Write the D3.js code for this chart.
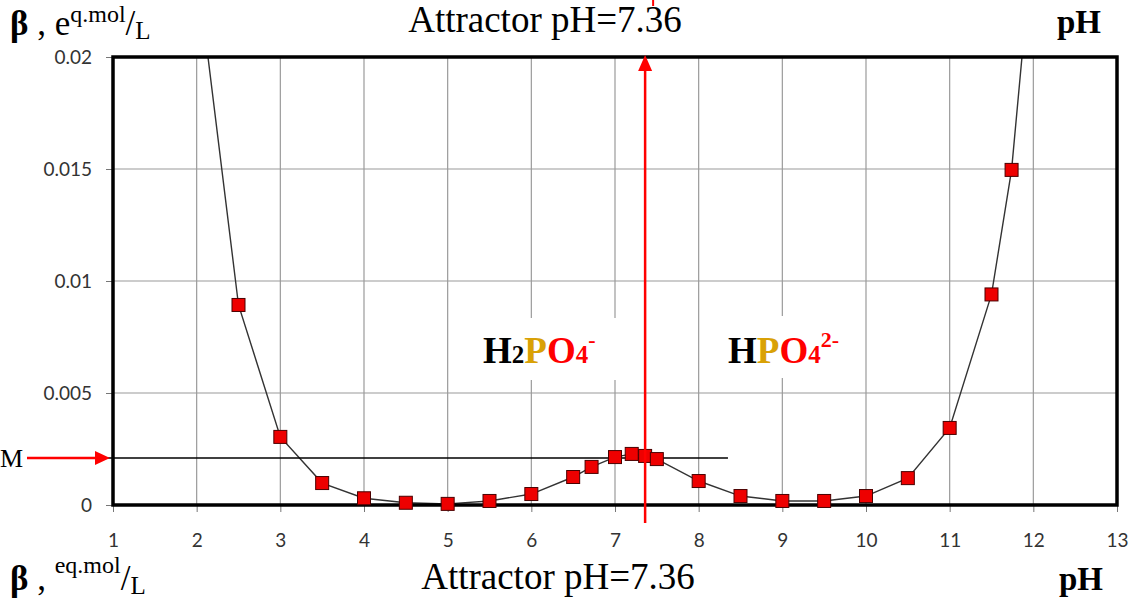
<!DOCTYPE html>
<html>
<head>
<meta charset="utf-8">
<script src="https://cdn.jsdelivr.net/npm/d3@7"></script>
<style>
  body { margin: 0; background: #fff; }
  svg { display: block; }
</style>
</head>
<body>
<div id="chart"></div>
<script>
// buffer capacity vs pH
const phValues   = [2, 2.5, 3, 3.5, 4, 4.5, 5, 5.5, 6, 6.5, 6.72, 7, 7.2, 7.36, 7.5, 8, 8.5, 9, 9.5, 10, 10.5, 11, 11.5, 11.74, 12];
const betaValues = [0.0241, 0.00893, 0.00304, 0.00098, 0.0003, 0.0001, 0.00005, 0.00018, 0.00049, 0.00125, 0.0017, 0.00214, 0.00228, 0.00219, 0.00205, 0.00107, 0.0004, 0.00018, 0.00018, 0.0004, 0.0012, 0.00344, 0.0094, 0.01496, 0.0255];
const xTicks = [1, 2, 3, 4, 5, 6, 7, 8, 9, 10, 11, 12, 13];
const yTicks = [0, 0.005, 0.01, 0.015, 0.02];
const yTickLabels = ["0", "0.005", "0.01", "0.015", "0.02"];
const attractorPh = 7.36;
const levelM = 0.0021;

const width = 1143, height = 598;
const svg = d3.select("#chart").append("svg")
  .attr("width", width)
  .attr("height", height);

const x = d3.scaleLinear().domain([1, 13]).range([113, 1117]);
const y = d3.scaleLinear().domain([0, 0.02]).range([505, 57]);

svg.append("defs").append("clipPath").attr("id", "plotClip")
  .append("rect")
  .attr("x", x(1)).attr("y", y(0.02))
  .attr("width", x(13) - x(1)).attr("height", y(0) - y(0.02));

// grid
svg.append("g").selectAll("line").data(xTicks.slice(1, -1)).join("line")
  .attr("x1", d => x(d)).attr("x2", d => x(d))
  .attr("y1", y(0.02)).attr("y2", y(0))
  .attr("stroke", "#9a9a9a").attr("stroke-width", 1.2);
svg.append("g").selectAll("line").data(yTicks.slice(1, -1)).join("line")
  .attr("x1", x(1)).attr("x2", x(13))
  .attr("y1", d => y(d)).attr("y2", d => y(d))
  .attr("stroke", "#9a9a9a").attr("stroke-width", 1.2);

// axes (ticks + labels)
const yAxis = svg.append("g").attr("transform", `translate(${x(1)},0)`)
  .call(d3.axisLeft(y).tickValues(yTicks).tickFormat((d, i) => yTickLabels[i]).tickSize(7).tickPadding(14));
const xAxis = svg.append("g").attr("transform", `translate(0,${y(0)})`)
  .call(d3.axisBottom(x).tickValues(xTicks).tickSize(7).tickPadding(22));
[xAxis, yAxis].forEach(a => {
  a.select(".domain").remove();
  a.selectAll(".tick line").attr("stroke", "#777");
  a.selectAll(".tick text").attr("fill", "#333").style("font-family", "Lato, 'Open Sans', sans-serif").style("font-size", "19px");
});

// white boxes behind the species labels
svg.append("rect").attr("x", 455).attr("y", 318).attr("width", 162).attr("height", 62).attr("fill", "#fff");
svg.append("rect").attr("x", 705).attr("y", 316).attr("width", 155).attr("height", 62).attr("fill", "#fff");

// curve
const pts = phValues.map((p, i) => ({ ph: p, beta: betaValues[i] }));
svg.append("path").datum(pts)
  .attr("clip-path", "url(#plotClip)")
  .attr("fill", "none")
  .attr("stroke", "#333")
  .attr("stroke-width", 1.4)
  .attr("d", d3.line().x(d => x(d.ph)).y(d => y(d.beta)));

// M level line
svg.append("line")
  .attr("x1", 75).attr("x2", x(8.35))
  .attr("y1", y(levelM)).attr("y2", y(levelM))
  .attr("stroke", "#000").attr("stroke-width", 1.4);

// frame
svg.append("rect")
  .attr("x", x(1)).attr("y", y(0.02))
  .attr("width", x(13) - x(1)).attr("height", y(0) - y(0.02))
  .attr("fill", "none").attr("stroke", "#000").attr("stroke-width", 3.5);

// markers
svg.append("g").selectAll("rect").data(pts.filter(d => d.beta <= 0.02)).join("rect")
  .attr("x", d => x(d.ph) - 6.5).attr("y", d => y(d.beta) - 6.5)
  .attr("width", 13).attr("height", 13)
  .attr("fill", "#ee0000").attr("stroke", "#4a0000").attr("stroke-width", 1);

// attractor arrow
const xa = x(attractorPh);
svg.append("line")
  .attr("x1", xa).attr("x2", xa)
  .attr("y1", 523).attr("y2", 68)
  .attr("stroke", "#f00").attr("stroke-width", 2.5);
svg.append("path")
  .attr("d", `M${xa},${55} L${xa - 7},${71} L${xa + 7},${71} Z`)
  .attr("fill", "#f00");
svg.append("line")
  .attr("x1", xa + 8).attr("x2", xa + 8).attr("y1", 0).attr("y2", 6)
  .attr("stroke", "#f00").attr("stroke-width", 2);

// M arrow
const ym = y(levelM);
svg.append("line")
  .attr("x1", 27).attr("x2", 98).attr("y1", ym).attr("y2", ym)
  .attr("stroke", "#f00").attr("stroke-width", 2.5);
svg.append("path")
  .attr("d", `M110,${ym} L95,${ym - 7} L95,${ym + 7} Z`)
  .attr("fill", "#f00");

const serif = "'Liberation Serif', 'Times New Roman', serif";

svg.append("text").attr("x", 0).attr("y", ym + 9)
  .style("font-family", serif).style("font-size", "26px").text("M");

// titles
[[32, 545], [589, 558]].forEach(([by, cx]) => {
  svg.append("text").attr("x", cx).attr("y", by).attr("text-anchor", "middle")
    .style("font-family", serif).style("font-size", "37px").text("Attractor pH=7.36");
});
svg.append("text").attr("x", 1057).attr("y", 33)
  .style("font-family", serif).style("font-size", "33px").style("font-weight", "bold").text("pH");
svg.append("text").attr("x", 1059).attr("y", 590)
  .style("font-family", serif).style("font-size", "33px").style("font-weight", "bold").text("pH");

// beta unit labels
const topUnit = svg.append("text").attr("x", 10).attr("y", 35)
  .style("font-family", serif).style("font-size", "35px");
topUnit.append("tspan").style("font-weight", "bold").text("β");
topUnit.append("tspan").text(" , e");
topUnit.append("tspan").attr("dy", -13).style("font-size", "24px").text("q.mol");
topUnit.append("tspan").attr("dy", 13).text("/");
topUnit.append("tspan").attr("dy", 4).style("font-size", "25px").text("L");

const botUnit = svg.append("text").attr("x", 10).attr("y", 590)
  .style("font-family", serif).style("font-size", "35px");
botUnit.append("tspan").style("font-weight", "bold").text("β");
botUnit.append("tspan").text(" , ");
botUnit.append("tspan").attr("dy", -17).style("font-size", "24px").text("eq.mol");
botUnit.append("tspan").attr("dy", 17).text("/");
botUnit.append("tspan").attr("dy", 4).style("font-size", "25px").text("L");

// species labels
function species(xPos, parts) {
  const t = svg.append("text").attr("x", xPos).attr("y", 363)
    .style("font-family", serif).style("font-size", "37px").style("font-weight", "bold");
  parts.forEach(p => {
    const s = t.append("tspan").attr("fill", p.c).text(p.t);
    if (p.dy) s.attr("dy", p.dy);
    if (p.fs) s.style("font-size", p.fs);
  });
}
species(483, [
  { t: "H", c: "#000" },
  { t: "2", c: "#000", fs: "25px" },
  { t: "P", c: "#d9a106" },
  { t: "O", c: "#f00" },
  { t: "4", c: "#f00", fs: "25px" },
  { t: "-", c: "#f00", fs: "22px", dy: -16 }
]);
species(728, [
  { t: "H", c: "#000" },
  { t: "P", c: "#d9a106" },
  { t: "O", c: "#f00" },
  { t: "4", c: "#f00", fs: "25px" },
  { t: "2-", c: "#f00", fs: "22px", dy: -16 }
]);
</script>
</body>
</html>
